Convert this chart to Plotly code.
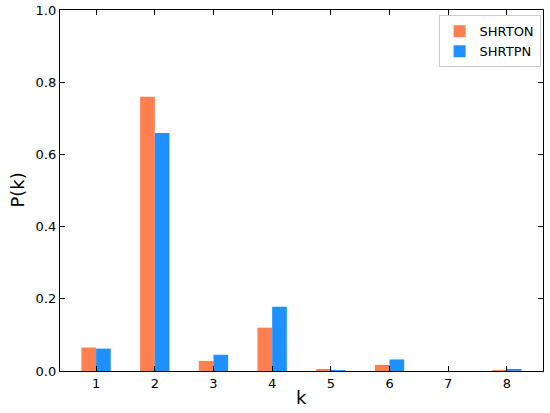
import plotly.graph_objs as go

k = [1, 2, 3, 4, 5, 6, 7, 8]
shrton = [0.065, 0.760, 0.028, 0.120, 0.004, 0.017, 0.0, 0.001]
shrtpn = [0.062, 0.659, 0.045, 0.178, 0.001, 0.032, 0.0, 0.003]

fig = go.Figure()
fig.add_trace(go.Bar(x=k, y=shrton, name='SHRTON', marker=dict(color='#FF7F50', line=dict(width=0))))
fig.add_trace(go.Bar(x=k, y=shrtpn, name='SHRTPN', marker=dict(color='#1E90FF', line=dict(width=0))))

axis_style = dict(showline=True, linecolor='black', linewidth=1.3, mirror='ticks',
                  ticks='inside', ticklen=5, tickwidth=1.3, tickcolor='black',
                  showgrid=False, zeroline=False, automargin=False,
                  tickfont=dict(family='DejaVu Sans', size=13, color='black'))

fig.update_layout(
    width=550, height=413,
    margin=dict(l=60, r=7, t=10, b=42),
    barmode='group', bargap=0.5, bargroupgap=0,
    plot_bgcolor='white', paper_bgcolor='white',
    font=dict(family='DejaVu Sans', color='black'),
    xaxis=dict(range=[0.385, 8.615], tickvals=k, **axis_style),
    yaxis=dict(range=[0, 1.0], tickvals=[0, 0.2, 0.4, 0.6, 0.8, 1.0],
               ticktext=['0.0', '0.2', '0.4', '0.6', '0.8', '1.0'], **axis_style),
    legend=dict(x=0.995, y=0.985, xanchor='right', yanchor='top',
                bordercolor='#cccccc', borderwidth=1, bgcolor='white',
                font=dict(size=13), itemwidth=30),
)

# axis titles as annotations so the margins stay fixed
fig.add_annotation(text='k', xref='paper', yref='paper', x=0.5, y=-0.04,
                   xanchor='center', yanchor='top', showarrow=False, font=dict(size=18))
fig.add_annotation(text='P(k)', xref='paper', yref='paper', x=-0.063, y=0.5,
                   xanchor='right', yanchor='middle', textangle=-90, showarrow=False, font=dict(size=18))

# drop the browser's default body margin so the figure fills the window
fig.write_html("out.html", config={'displayModeBar': False},
               post_script="document.body.style.margin = '0';")
